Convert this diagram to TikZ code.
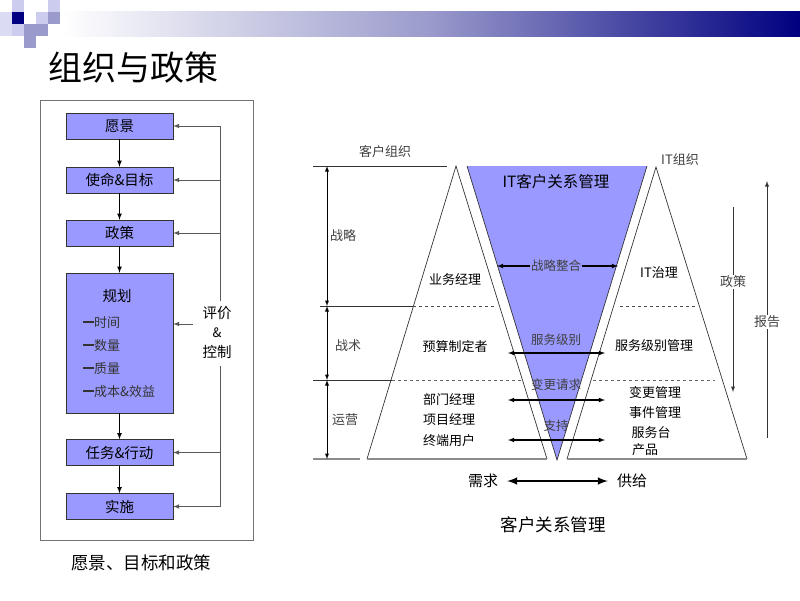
\documentclass[tikz,border=0pt]{standalone}
\usepackage{fontspec}
\setmainfont{Noto Sans CJK SC}
\usepackage{xcolor}
\usetikzlibrary{calc}
\usetikzlibrary{positioning,arrows}
\definecolor{boxblue}{HTML}{9999FF}
\definecolor{midlav}{HTML}{9A9ACC}
\definecolor{litlav}{HTML}{CCCCEE}
\definecolor{hdnavy}{HTML}{000080}
\newcommand{\fs}[1]{\fontsize{#1}{#1}\selectfont}
\tikzset{
  flowbox/.style = {draw = black!80,fill = boxblue,minimum width = 107pt,
    minimum height = 26pt,inner sep = 0pt,font = \fs{14.5}},
  lbl/.style = {inner sep = 1pt,font = \fs{13}},
  graylbl/.style = {inner sep = 1pt,font = \fs{13},text = black!75},
  fback/.style = {draw = black!65,line width = 1pt},
  dim/.style = {<->,>=latex,line width = 0.9pt}
}

\begin{document}
\begin{tikzpicture}[x = 1pt,y = -1pt,>=latex]
\useasboundingbox (0,0) rectangle (800,600);
% header
\shade[left color = white,right color = hdnavy,middle color = midlav]
  (62,11) rectangle (800,36);
\fill[hdnavy] (12,12) rectangle (24,24);
\fill[litlav] (12,0) rectangle (24,12);
\fill[litlav!70] (0,12) rectangle (12,36);
\fill[litlav] (12,24) rectangle (24,36);
\fill[midlav] (24,24) rectangle (36,48);
\fill[litlav] (36,12) rectangle (48,24);
\fill[midlav] (36,24) rectangle (48,36);
\fill[litlav] (48,0) rectangle (60,12);
\fill[midlav] (48,12) rectangle (60,24);
\node[anchor = west,inner sep = 0pt,font = \fs{34}] (title) at (48,68) {组织与政策};

% left panel
\draw[black!55,line width = 1pt] (40,100) rectangle (253,540);
\node[flowbox] (vision) at (119.5,126) {愿景};
\node[flowbox] (mission) at (119.5,180) {使命\&目标};
\node[flowbox] (policy) at (119.5,233) {政策};
\node[flowbox,minimum height = 140pt] (plan) at (119.5,343) {};
\node[flowbox] (task) at (119.5,452.5) {任务\&行动};
\node[flowbox] (impl) at (119.5,506.5) {实施};
\node[font = \fs{14.5},inner sep = 0pt] (plantitle) at (117,296) {规划};
\foreach \y/\t in {323/时间,346/数量,369/质量,392/成本\&效益}
  \node[anchor = west,inner sep = 0pt,font = \fs{13},text = black!80]
    at (83,\y) {\rule[0.35em]{11pt}{2pt}\t};
\draw[->,line width = 1.1pt] (vision) -- (mission);
\draw[->,line width = 1.1pt] (mission) -- (policy);
\draw[->,line width = 1.1pt] (policy) -- (plan);
\draw[->,line width = 1.1pt] (plan) -- (task);
\draw[->,line width = 1.1pt] (task) -- (impl);
\node[font = \fs{14.5},inner sep = 0pt] (evalA) at (217,313) {评价};
\node[font = \fs{13},inner sep = 0pt] (evalB) at (217,333) {\&};
\node[font = \fs{14.5},inner sep = 0pt] (evalC) at (217,352) {控制};
\coordinate (fbtop) at (220,126);
\coordinate (fbmid) at (220,301);
\coordinate (fblow) at (220,366);
\coordinate (fbend) at (220,506.5);
\draw[fback] (fbtop) -- (fbmid);
\draw[fback] (fblow) -- (fbend);
\draw[fback,->] (fbtop) -- (vision.east);
\draw[fback,->] (fbtop |- mission) -- (mission.east);
\draw[fback,->] (fbtop |- policy) -- (policy.east);
\draw[fback,->] (193,324) -- (plan.east |- 0,324);
\draw[fback,->] (fbtop |- task) -- (task.east);
\draw[fback,->] (fbend) -- (impl.east);
\node[font = \fs{17.5},inner sep = 0pt] (capL) at (141,563) {愿景、目标和政策};

% right diagram: triangles
\coordinate (ctop) at (456,166);
\coordinate (cbl) at (367,459);
\coordinate (cbr) at (547,459);
\coordinate (itop) at (656,167);
\coordinate (ibl) at (567,459);
\coordinate (ibr) at (747,459);
\fill[boxblue] (467,166) -- (647,166) -- (557,460) -- cycle;
\draw[black!80,line width = 0.7pt] (467,166) -- (557,460) -- (647,166);
\draw[black!80,line width = 0.7pt] (cbl) -- (ctop) -- (cbr);
\draw[black!80,line width = 0.7pt] (ibl) -- (itop) -- (ibr);
\draw[black!45,line width = 1.5pt] (cbl) -- (cbr);
\draw[black!45,line width = 1.5pt] (ibl) -- (ibr);

% levels
\draw[black!80,line width = 0.7pt] (313,166) -- (447,166);
\draw[black!80,line width = 0.7pt] (320,306) -- (413,306);
\draw[black!70,dashed,line width = 0.7pt] (413,306) -- (495,306);
\draw[black!70,dashed,line width = 0.7pt] (620,306) -- (697,306);
\draw[black!80,line width = 0.7pt] (313,380) -- (392,380);
\draw[black!60,dashed,line width = 0.7pt] (392,380) -- (522,380);
\draw[black!60,dashed,line width = 0.7pt] (593,380) -- (715,380);
\draw[black!45,line width = 1.5pt] (313,459) -- (360,459);
\coordinate (lv0) at (327,166);
\coordinate (lv1) at (327,306);
\coordinate (lv2) at (327,380);
\coordinate (lv3) at (327,459);
\draw[dim] (lv0) -- (lv1);
\draw[dim] (lv1) -- (lv2);
\draw[dim] (lv2) -- (lv3);

\node[graylbl] (custorg) at (385,152) {客户组织};
\node[graylbl] (itorg) at (680,160) {IT组织};
\node[graylbl] (strat) at (343,236) {战略};
\node[graylbl] (tact) at (348,346) {战术};
\node[graylbl] (oper) at (345,420) {运营};

% customer side
\node[lbl] (bizmgr) at (455,280) {业务经理};
\node[lbl] (budget) at (455,347) {预算制定者};
\node[lbl] (deptmgr) at (449,400) {部门经理};
\node[lbl] (projmgr) at (449,420) {项目经理};
\node[lbl] (enduser) at (449,441) {终端用户};

% IT side
\node[lbl] (itgov) at (659,273) {IT治理};
\node[lbl] (slm) at (654,346) {服务级别管理};
\node[lbl] (chgmgt) at (655,393) {变更管理};
\node[lbl] (incmgt) at (655,413) {事件管理};
\node[lbl] (desk) at (651,433) {服务台};
\node[lbl] (prod) at (645,450) {产品};

% centre
\node[font = \fs{15.5},inner sep = 0pt] (itcrm) at (556,182) {IT客户关系管理};
\node[graylbl,font = \fs{12.5}] (align) at (556,266) {战略整合};
\node[graylbl,font = \fs{12.5}] (slvl) at (556,340) {服务级别};
\node[graylbl,font = \fs{12.5}] (chreq) at (556,385) {变更请求};
\node[graylbl,font = \fs{12.5}] (supp) at (556,426) {支持};
\coordinate (alL) at (497,266);
\coordinate (alR) at (618,266);
\draw[->,line width = 1.1pt] (align.west) -- (alL);
\draw[->,line width = 1.1pt] (align.east) -- (alR);
\foreach \y in {353,400,440}
  \draw[dim,line width = 1.1pt] (508,\y) -- (605,\y);

% policy / report
\node[graylbl] (polR) at (733,282) {政策};
\node[graylbl] (report) at (767,322) {报告};
\draw[black!80,line width = 0.9pt] (733,207) -- (polR.north);
\draw[->,black!80,line width = 0.9pt] (polR.south) -- (733,392);
\draw[black!80,line width = 0.9pt] (767,438) -- (report.south);
\draw[->,black!80,line width = 0.9pt] (report.north) -- (767,181);

% bottom
\node[font = \fs{15},inner sep = 0pt] (demand) at (483,481) {需求};
\node[font = \fs{15},inner sep = 0pt] (supply) at (632,481) {供给};
\draw[<->,line width = 2.4pt] ([xshift = 9pt]demand.east) -- ([xshift = -9pt]supply.west);
\node[font = \fs{17.5},inner sep = 0pt] (capR) at (553,525) {客户关系管理};
\end{tikzpicture}
\end{document}
